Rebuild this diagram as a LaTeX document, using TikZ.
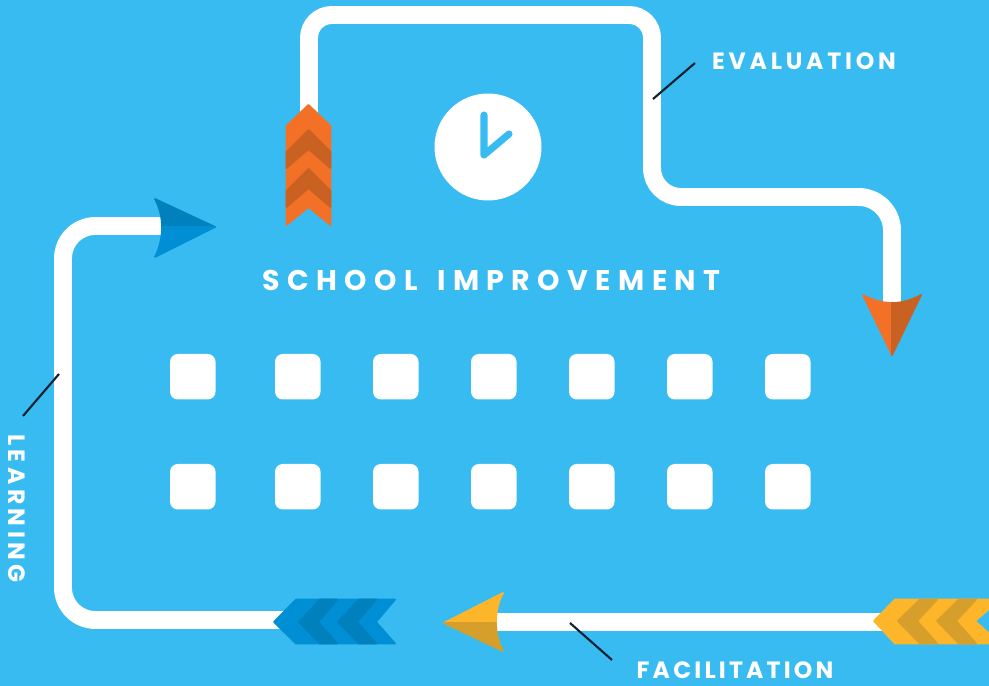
\documentclass[tikz,border=0pt]{standalone}
\usepackage{tikz}
\usepackage{xcolor}
\usepackage{fontspec}
\setmainfont{Poppins}
\definecolor{sky}{HTML}{38BBF1}
\definecolor{orangelt}{HTML}{F37027}
\definecolor{orangedk}{HTML}{C96122}
\definecolor{bluelt}{HTML}{008FD5}
\definecolor{bluedk}{HTML}{0080BC}
\definecolor{yellowlt}{HTML}{FDB52A}
\definecolor{yellowdk}{HTML}{D69E2A}
\definecolor{leader}{HTML}{10202E}
\tikzset{
    track/.style={draw=white,line width=5.1pt},
    arrowpart/.style={line width=0.5pt,line join=round},
    tick/.style={draw=leader,line width=0.6pt},
    caption/.style={text=white,inner sep=0pt}
}
\begin{document}
\begin{tikzpicture}[x=0.01cm,y=-0.01cm]
    \useasboundingbox (0,0) rectangle (989,686);
    \fill[sky] (0,0) rectangle (989,686);
    % tracks
    \draw[track,rounded corners=6.5pt] (309,115) -- (309,15) -- (652,15) [rounded corners=8.2pt] -- (652,197) [rounded corners=9.5pt] -- (892,197) -- (892,310);
    \draw[track,rounded corners=9.2pt] (170,226) -- (63,226) -- (63,620) -- (285,620);
    \draw[track] (885,622) -- (490,622);
    % clock
    \node (clock) at (488,147) [circle,fill=white,inner sep=0pt,minimum size=107*0.01cm] {};
    \draw[sky,line width=2pt,line cap=round,line join=round] (484,115) -- (484,155) -- (509,134);
    % squares
    \foreach \x in {193,298,396,494,592,690,788} {
        \foreach \y in {377,487} {
            \fill[white,rounded corners=2.2pt] (\x-23,\y-23) rectangle (\x+22.5,\y+22.5);
        }
    }
    % orange tail
    \fill[orangelt,draw=orangelt,arrowpart] (308.5,105) -- (330.5,126) -- (330.5,225) -- (308.5,207) -- (286.5,225) -- (286.5,126) -- cycle;
    \foreach \y in {0,39} {
        \fill[orangedk,draw=orangedk,arrowpart] (308.5,130+\y) -- (330.5,152+\y) -- (330.5,168+\y) -- (308.5,149+\y) -- (286.5,168+\y) -- (286.5,152+\y) -- cycle;
    }
    % orange head
    \fill[orangelt,draw=orangelt,arrowpart] (892,355) -- (863,295) .. controls (872,300) and (882,303) .. (892,303) -- cycle;
    \fill[orangedk,draw=orangedk,arrowpart] (892,355) -- (921,295) .. controls (912,300) and (902,303) .. (892,303) -- cycle;
    % blue head
    \fill[bluedk,draw=bluedk,arrowpart] (215,227) -- (155,199) .. controls (160,208) and (162,218) .. (162,227) -- cycle;
    \fill[bluelt,draw=bluelt,arrowpart] (215,227) -- (155,257) .. controls (160,247) and (162,237) .. (162,227) -- cycle;
    % blue tail
    \fill[bluelt,draw=bluelt,arrowpart] (274,622) -- (296,599.5) -- (395,599.5) -- (376,622) -- (395,643.5) -- (296,643.5) -- cycle;
    \foreach \x in {0,39} {
        \fill[bluedk,draw=bluedk,arrowpart] (299+\x,622) -- (320+\x,599.5) -- (337+\x,599.5) -- (318+\x,622) -- (337+\x,643.5) -- (320+\x,643.5) -- cycle;
    }
    % yellow head
    \fill[yellowlt,draw=yellowlt,arrowpart] (444,623) -- (503,593) .. controls (498,602) and (496,612) .. (496,623) -- cycle;
    \fill[yellowdk,draw=yellowdk,arrowpart] (444,623) -- (503,651) .. controls (498,642) and (496,632) .. (496,623) -- cycle;
    % yellow tail
    \begin{scope}
        \clip (0,0) rectangle (989,686);
        \fill[yellowlt,draw=yellowlt,arrowpart] (874,621) -- (895,599.5) -- (1000,599.5) -- (975,621) -- (1000,643.5) -- (895,643.5) -- cycle;
        \foreach \x in {0,39} {
            \fill[yellowdk,draw=yellowdk,arrowpart] (898+\x,621) -- (920+\x,599.5) -- (937+\x,599.5) -- (917+\x,621) -- (937+\x,643.5) -- (920+\x,643.5) -- cycle;
        }
    \end{scope}
    % labels
    \node (school) at (491.5,280) [caption,font=\fontsize{8.1}{10}\bfseries\selectfont\addfontfeature{LetterSpace=26}] {SCHOOL\hspace{1.7pt} IMPROVEMENT};
    \node (evaluation) at (804,61) [caption,font=\fontsize{6.7}{8}\bfseries\selectfont\addfontfeature{LetterSpace=16}] {EVALUATION};
    \node (facilitation) at (735,670) [caption,font=\fontsize{6.7}{8}\bfseries\selectfont\addfontfeature{LetterSpace=13.5}] {FACILITATION};
    \node (learning) at (17,508.5) [caption,rotate=-90,font=\fontsize{6.7}{8}\bfseries\selectfont\addfontfeature{LetterSpace=19}] {LEARNING};
    % leaders
    \coordinate (evalA) at (695,63);
    \coordinate (evalB) at (653,99);
    \coordinate (learnA) at (59,374);
    \coordinate (learnB) at (23,416);
    \coordinate (faciA) at (570,623);
    \coordinate (faciB) at (612,660);
    \draw[tick] (evalA) -- (evalB);
    \draw[tick] (learnA) -- (learnB);
    \draw[tick] (faciA) -- (faciB);
\end{tikzpicture}
\end{document}
